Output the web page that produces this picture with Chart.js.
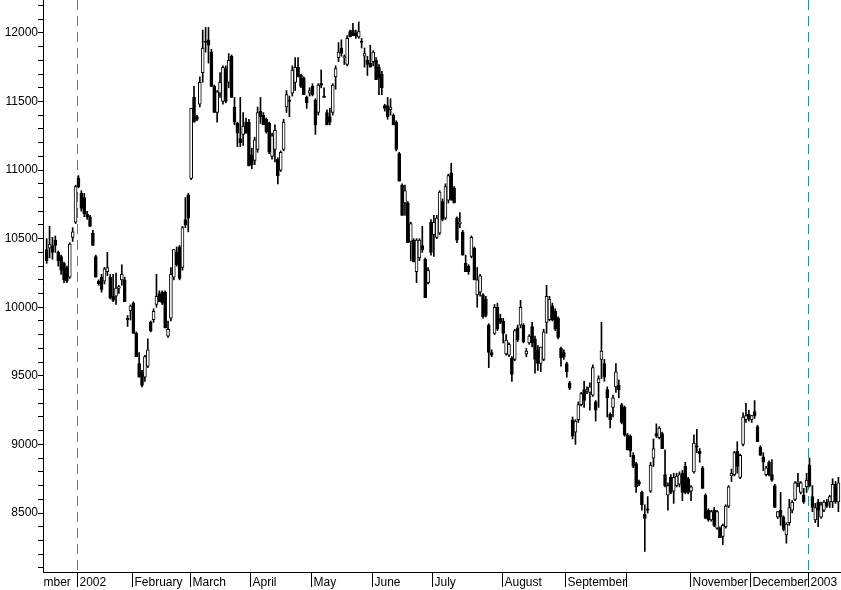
<!DOCTYPE html>
<html>
<head>
<meta charset="utf-8">
<script src="https://cdn.jsdelivr.net/npm/chart.js@4.4.0/dist/chart.umd.min.js"></script>
<style>
  html, body { margin: 0; padding: 0; background: #fff; }
</style>
</head>
<body>
<canvas id="chart" width="841" height="590"></canvas>
<script>
/* DAILY CANDLES (index 0 = mid December 2001) */
const opens = [
  10420,10430,10450,10490,10400,10370,10320,10290,10220,10510,10620,
  10940,10830,10800,10680,10660,10540,10370,10190,10220,10190,10260,10220,10080,10080,10140,10200,10200,9920,9975,
  10030,9810,9590,9530,9490,9570,9890,9910,10020,10100,10110,10110,9790,9920,10220,10400,10440,10290,10640,10820,
  10940,11530,11390,11480,11710,11940,11950,11860,11610,11420,11560,11500,11740,11640,11830,11460,11340,11230,11260,11350,11350,
  11110,11070,11150,11430,11400,11370,11340,11100,11150,11080,11000,11150,11460,11510,11560,11640,11750,11690,11670,11530,11560,
  11610,11510,11420,11630,11540,11420,11390,11420,11680,11820,11890,11820,11770,12010,12020,12000,11970,11940,11830,11800,11780,
  11790,11800,11750,11700,11470,11470,11440,11400,11350,11120,10890,10760,10760,10480,10490,10260,10360,10450,10350,10180,10620,
  10530,10510,10540,10770,10650,10780,10980,10870,10650,10610,10550,10320,10300,10370,10430,10090,10110,10090,10060,9870,9670,9810,10000,9920,
  9900,9660,9650,9630,9620,9850,9870,9870,9660,9740,9860,9770,9690,9590,9620,9890,9910,10010,9970,9920,9700,9670,
  9590,9450,9180,9090,9180,9290,9400,9390,9380,9360,9310,9450,9620,9590,9400,9220,9270,9420,9430,9290,9270,
  9070,9060,8920,8860,8730,8650,8490,8530,8660,8900,9080,9050,9080,8780,8630,8760,8660,8700,8710,8790,8840,8750,
  8660,8800,8990,8950,8830,8630,8520,8450,8520,8390,8390,8330,8400,8550,8770,8780,8950,8760,9000,9180,9220,
  9180,9240,9130,8980,8910,8780,8870,8780,8700,8470,8520,8470,8340,8430,8520,8600,8720,8650,8630,8690,
  8850,8620,8450,8580,8470,8520,8580,8580,8580,8710,8580
];
const highs = [
  10500,10590,10510,10520,10410,10380,10330,10300,10470,10580,10890,
  10960,10850,10830,10700,10670,10560,10380,10200,10240,10290,10400,10240,10240,10250,10160,10310,10220,9940,10017,
  10040,9820,9670,9540,9650,9770,9900,9990,10240,10120,10120,10120,9900,10290,10420,10440,10450,10590,10800,10830,
  11450,11610,11400,11680,12020,12040,12040,11880,11620,11580,11710,11760,11760,11850,11840,11530,11350,11530,11420,11380,11370,
  11160,11240,11460,11530,11420,11380,11350,11270,11330,11090,11140,11370,11580,11540,11760,11820,11820,11700,11680,11540,11600,
  11630,11520,11630,11730,11600,11440,11450,11630,11760,11930,11950,11840,11980,12020,12070,12020,12080,11960,11890,11830,11910,
  11870,11820,11770,11720,11480,11530,11520,11410,11360,11130,10900,10890,10770,10620,10500,10500,10500,10590,10360,10290,10640,
  10670,10670,10850,10790,10900,10970,11050,10880,10660,10690,10560,10380,10310,10520,10440,10290,10240,10100,10080,9880,9690,10020,10030,9950,
  9920,9800,9740,9640,9840,9870,10050,9880,9700,9800,9890,9790,9720,9710,9840,10160,10080,10030,9990,9930,9710,9690,
  9600,9460,9200,9180,9310,9380,9460,9420,9450,9580,9320,9500,9890,9620,9420,9230,9360,9590,9470,9300,9280,
  9080,9070,8940,8870,8740,8660,8560,8620,8870,9040,9150,9130,9090,8960,8720,8780,8790,8790,8800,8810,8870,8760,
  8700,9070,9110,8970,8840,8640,8530,8520,8540,8520,8400,8420,8560,8700,8820,8950,9020,8930,9230,9300,9250,
  9210,9320,9140,8990,8940,8840,8880,8890,8710,8510,8650,8480,8430,8600,8590,8730,8790,8730,8680,8790,
  8900,8700,8570,8600,8580,8590,8600,8630,8750,8730,8760
];
const lows = [
  10320,10360,10350,10400,10300,10240,10180,10180,10210,10480,10610,
  10870,10700,10660,10640,10590,10450,10220,10160,10110,10170,10230,10060,10040,10020,10100,10160,10040,9860,9907,
  9810,9640,9490,9420,9460,9560,9820,9890,10000,10040,10020,9850,9780,9900,10200,10300,10200,10270,10580,10550,
  10930,11350,11360,11460,11640,11860,11780,11610,11420,11350,11530,11480,11490,11600,11530,11330,11170,11170,11180,11270,11030,
  11010,11040,11130,11340,11330,11270,11120,11080,11060,10900,10990,11140,11420,11390,11540,11580,11680,11600,11550,11450,11540,
  11540,11260,11400,11600,11530,11330,11330,11400,11590,11790,11830,11770,11760,11970,11980,11960,11960,11890,11750,11690,11750,
  11760,11660,11550,11550,11430,11370,11400,11330,11140,10920,10670,10670,10470,10340,10330,10180,10340,10400,10070,10170,10380,
  10370,10500,10530,10630,10640,10760,10780,10760,10470,10580,10380,10260,10240,10360,10200,10000,10080,9920,9930,9560,9640,9800,9830,9880,
  9740,9650,9640,9460,9610,9750,9850,9740,9640,9730,9710,9520,9540,9530,9610,9810,9900,9900,9830,9770,9570,9620,
  9490,9400,9040,9000,9160,9280,9270,9370,9250,9350,9170,9270,9480,9460,9200,9120,9200,9380,9340,9150,9060,
  8960,8910,8830,8650,8700,8520,8220,8500,8650,8840,9050,9040,8970,8690,8520,8640,8570,8690,8690,8590,8640,8640,
  8590,8790,8940,8870,8680,8460,8440,8440,8400,8380,8320,8270,8390,8540,8730,8770,8790,8750,8990,9160,9170,
  9160,9190,9020,8920,8810,8770,8770,8730,8540,8460,8410,8370,8280,8410,8500,8590,8690,8640,8570,8650,
  8690,8510,8430,8400,8460,8510,8540,8540,8540,8570,8510
];
const closes = [
  10340,10460,10400,10450,10340,10270,10200,10190,10460,10550,10880,
  10880,10720,10680,10660,10590,10450,10220,10170,10130,10280,10290,10070,10050,10140,10150,10240,10040,9910,10010,
  9810,9640,9490,9430,9640,9690,9830,9970,10080,10040,10030,9850,9840,10240,10420,10310,10210,10580,10600,10650,
  11450,11350,11370,11640,11890,11930,11910,11610,11420,11570,11640,11750,11500,11800,11530,11350,11270,11200,11320,11270,11030,
  11040,11220,11420,11390,11330,11280,11130,11250,11290,10960,11130,11350,11550,11500,11730,11750,11680,11610,11550,11490,11580,
  11550,11330,11620,11620,11530,11330,11350,11620,11740,11860,11850,11820,11960,11970,11980,11980,12010,11930,11850,11770,11750,
  11860,11660,11670,11600,11450,11390,11460,11330,11150,10920,10670,10850,10470,10610,10330,10490,10490,10420,10070,10270,10400,
  10620,10650,10840,10640,10880,10960,10780,10760,10490,10620,10380,10260,10260,10510,10200,10200,10230,9930,9940,9670,9650,10000,9840,9890,
  9810,9760,9730,9510,9830,9760,10000,9750,9680,9790,9740,9620,9590,9710,9820,10080,10060,9910,9840,9780,9630,9640,
  9530,9410,9060,9170,9290,9370,9320,9400,9420,9560,9250,9480,9680,9490,9340,9180,9340,9530,9400,9160,9070,
  8960,8950,8840,8690,8710,8560,8460,8520,8850,8970,9060,9120,8970,8700,8700,8650,8760,8770,8780,8650,8650,8650,
  8690,9010,8980,8930,8680,8460,8450,8510,8410,8510,8320,8410,8550,8690,8790,8940,8840,8920,9200,9210,9190,
  9210,9210,9020,8920,8870,8830,8780,8740,8540,8510,8470,8380,8420,8540,8580,8720,8730,8720,8580,8740,
  8700,8540,8540,8520,8560,8580,8550,8620,8710,8580,8720
];

/* MONTH AXIS: index of the first candle of each month, and its label */
const monthStarts = [-11, 11, 30, 50, 71, 92, 113, 134, 158, 180, 201, 223, 244, 264];
const monthLabels = ["December", "2002", "February", "March", "April", "May", "June",
                     "July", "August", "September", "", "November", "December", "2003"];
const yearStarts = [11, 264];

/* VISIBLE WINDOW */
const xMin = -1.27, xMax = 274.9;
const yMin = 8070, yMax = 12240;
const yTickStep = 100, yLabelStep = 500;

const FONT = '"Liberation Sans", Arial, sans-serif';

/* year separators */
const yearLines = {
  id: 'yearLines',
  beforeDatasetsDraw(chart) {
    const { ctx, chartArea: a, scales: { x } } = chart;
    ctx.save();
    ctx.strokeStyle = '#2e8e8e';
    ctx.lineWidth = 1;
    ctx.setLineDash([10, 6]);
    yearStarts.forEach(s => {
      const px = Math.round(x.getPixelForValue(s - 0.5)) + 0.5;
      ctx.beginPath();
      ctx.moveTo(px, a.top);
      ctx.lineTo(px, a.bottom);
      ctx.stroke();
    });
    ctx.restore();
  }
};

/* month ticks and labels under the plot */
const monthAxis = {
  id: 'monthAxis',
  afterDraw(chart) {
    const { ctx, chartArea: a, scales: { x } } = chart;
    ctx.save();
    ctx.strokeStyle = '#000';
    ctx.lineWidth = 1;
    ctx.beginPath();
    ctx.moveTo(a.left, a.bottom + 0.5);
    ctx.lineTo(a.right, a.bottom + 0.5);
    ctx.stroke();
    ctx.beginPath();
    ctx.rect(a.left + 1, a.bottom, a.right - a.left, 30);
    ctx.clip();
    ctx.font = '12px ' + FONT;
    ctx.fillStyle = '#000';
    ctx.textAlign = 'left';
    ctx.textBaseline = 'middle';
    monthStarts.forEach((s, i) => {
      const px = Math.round(x.getPixelForValue(s - 0.5)) + 0.5;
      ctx.beginPath();
      ctx.moveTo(px, a.bottom);
      ctx.lineTo(px, a.bottom + 15);
      ctx.stroke();
      ctx.fillText(monthLabels[i], px + 2, a.bottom + 11);
    });
    ctx.restore();
  }
};

/* BUILD DATASETS */
const bodies = opens.map((o, i) => ({ x: i, y: [o, closes[i]] }));
const wicks = lows.map((l, i) => ({ x: i, y: [l, highs[i]] }));
const bodyFill = opens.map((o, i) => closes[i] >= o ? '#ffffff' : '#000000');

new Chart(document.getElementById('chart'), {
  type: 'bar',
  data: {
    datasets: [
      {
        data: bodies,
        backgroundColor: bodyFill,
        borderColor: '#000',
        borderWidth: 1,
        borderSkipped: false,
        barThickness: 3,
        minBarLength: 1,
        grouped: false
      },
      {
        data: wicks,
        backgroundColor: '#000',
        borderWidth: 0,
        barThickness: 1,
        grouped: false
      }
    ]
  },
  options: {
    responsive: false,
    animation: false,
    layout: { padding: { top: 0, right: 0, bottom: 18, left: 0 } },
    plugins: { legend: { display: false }, tooltip: { enabled: false } },
    scales: {
      x: {
        type: 'linear',
        min: xMin,
        max: xMax,
        offset: false,
        bounds: 'data',
        display: false,
        afterBuildTicks: s => { s.min = xMin; s.max = xMax; }
      },
      y: {
        min: yMin,
        max: yMax,
        afterBuildTicks: s => {
          const t = [];
          for (let v = Math.ceil(yMin / yTickStep) * yTickStep; v <= yMax; v += yTickStep) t.push({ value: v });
          s.ticks = t;
        },
        afterFit: s => {
          s.width = 43;
          s.paddingTop = 0;
          s.paddingBottom = 0;
        },
        ticks: {
          autoSkip: false,
          padding: 0,
          color: '#000',
          font: { family: FONT, size: 12 },
          callback: v => (v % yLabelStep === 0 ? String(v) : '')
        },
        grid: { drawOnChartArea: false, tickLength: 5, color: '#000' },
        border: { display: true, color: '#000' }
      }
    }
  },
  plugins: [yearLines, monthAxis]
});
</script>
</body>
</html>
